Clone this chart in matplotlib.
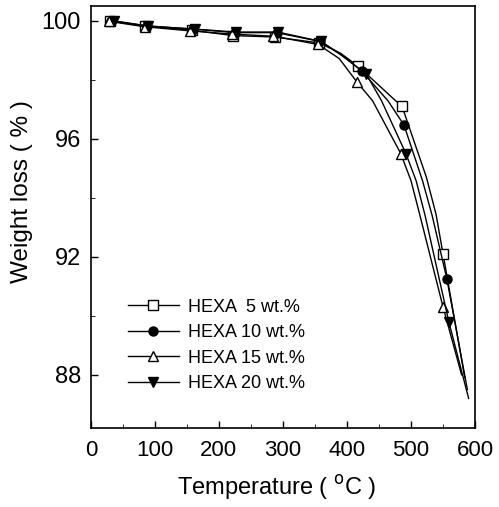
import matplotlib.pyplot as plt

plt.rcParams['font.family'] = ['Liberation Sans', 'DejaVu Sans']

# temperature (C) and weight (%)
t5 = [30, 85, 158, 222, 288, 357, 390, 417, 476, 486, 524, 539, 550, 584]
w5 = [100.0, 99.82, 99.68, 99.50, 99.45, 99.25, 98.9, 98.47, 97.29, 97.1, 94.7, 93.45, 92.1, 87.9]
t10 = [32, 87, 160, 225, 290, 358, 390, 423, 464, 489, 518, 533, 556, 588]
w10 = [100.0, 99.83, 99.72, 99.60, 99.60, 99.30, 98.88, 98.3, 97.29, 96.47, 94.58, 93.4, 91.25, 87.5]
t15 = [29, 84, 155, 220, 285, 355, 388, 415, 440, 484, 500, 514, 550, 579]
w15 = [99.98, 99.80, 99.66, 99.55, 99.48, 99.20, 98.72, 97.94, 97.29, 95.5, 94.58, 93.4, 90.3, 88.0]
t20 = [36, 90, 162, 226, 292, 360, 392, 430, 454, 492, 508, 522, 559, 590]
w20 = [100.0, 99.82, 99.72, 99.62, 99.62, 99.30, 98.82, 98.2, 97.29, 95.5, 94.58, 93.4, 89.8, 87.2]
# which of the points carry a symbol
marked = [0, 1, 2, 3, 4, 5, 7, 9, 12]
labels = ['HEXA  5 wt.%', 'HEXA 10 wt.%', 'HEXA 15 wt.%', 'HEXA 20 wt.%']

fig = plt.figure(figsize=(4.99, 5.07), dpi=100)
ax = fig.add_axes([0.182, 0.156, 0.770, 0.832])

mk = dict(color='black', lw=1.0, ms=6.5, markevery=marked)
ax.plot(t5, w5, marker='s', mfc='white', label=labels[0], **mk)
ax.plot(t10, w10, marker='o', mfc='black', label=labels[1], **mk)
ax.plot(t15, w15, marker='^', mfc='white', label=labels[2], **mk)
ax.plot(t20, w20, marker='v', mfc='black', label=labels[3], **mk)

ax.set_xlim(0, 600)
ax.set_ylim(86.2, 100.5)
ax.set_xticks(range(0, 601, 100))
ax.set_xticks(range(50, 600, 100), minor=True)
ax.set_yticks([88, 92, 96, 100])
ax.set_yticks([90, 94, 98], minor=True)
ax.tick_params(direction='in', length=5, width=1)
ax.tick_params(axis='x', pad=9, labelsize=16)
ax.tick_params(axis='y', pad=7, labelsize=17)
ax.tick_params(which='minor', direction='in', length=3)
for s in ax.spines.values():
    s.set_linewidth(1.2)

ax.set_xlabel('Temperature ( $^{\\mathrm{o}}$C )', fontsize=17)
ax.set_ylabel('Weight loss ( % )', fontsize=17.5)
ax.xaxis.set_label_coords(0.484, -0.108)
ax.yaxis.set_label_coords(-0.151, 0.56)

ax.legend(loc='upper left', bbox_to_anchor=(0.055, 0.345), frameon=False,
          fontsize=13, handlelength=2.8, handletextpad=0.5, labelspacing=0.47)

fig.savefig('out.png', dpi=100)
